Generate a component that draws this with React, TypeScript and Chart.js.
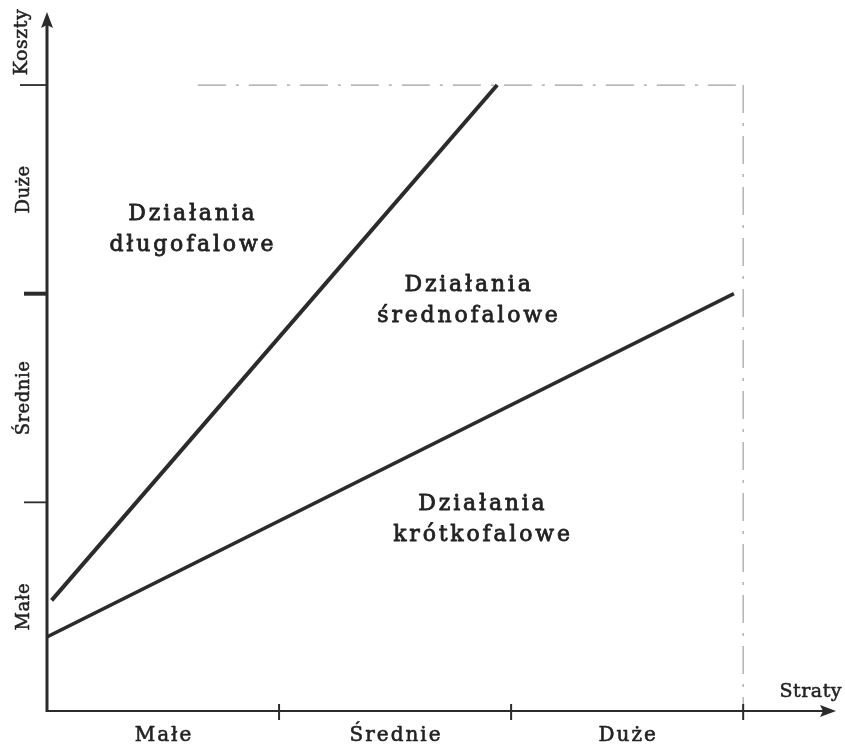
import React, { useEffect, useRef } from "react";
import { Chart, registerables } from "chart.js";

Chart.register(...registerables);

// Category names on both axes (Małe / Średnie / Duże)
const xCategories = ["Małe", "Średnie", "Duże"];
const yCategories = ["Małe", "Średnie", "Duże"];
const xAxisTitle = "Straty";
const yAxisTitle = "Koszty";

// Boundary lines (x: losses, y: costs, in category units 0..3)
const longTermBoundary = [
  { x: 0.02, y: 0.53 },
  { x: 1.94, y: 3.0 },
];
const shortTermBoundary = [
  { x: 0.0, y: 0.355 },
  { x: 2.96, y: 2.0 },
];

// Region names
const regionNames = [
  ["Działania", "długofalowe"],
  ["Działania", "średnofalowe"],
  ["Działania", "krótkofalowe"],
];
// anchor (data units) of each region name's first line
const regionAnchors = [
  { x: 0.62, y: 2.39 },
  { x: 1.81, y: 2.05 },
  { x: 1.87, y: 1.0 },
];

const INK = "#2b2b2b";
const TEXT = "#222";
const SERIF = "'DejaVu Serif', 'Liberation Serif', serif";

function heavyText(ctx: any, t: string, x: number, y: number, w: number) {
  ctx.fillText(t, x, y);
  ctx.lineWidth = w;
  ctx.strokeText(t, x, y);
}

const diagramPlugin = {
  id: "diagram",
  beforeDatasetsDraw(chart: any) {
    const { ctx } = chart;
    const xs = chart.scales.x;
    const ys = chart.scales.y;
    const x0 = xs.getPixelForValue(0);
    const y0 = ys.getPixelForValue(0);
    const xEnd = xs.getPixelForValue(xs.max);
    const yEnd = ys.getPixelForValue(ys.max);
    ctx.save();

    // dashed guides
    ctx.strokeStyle = "#a0a0a0";
    ctx.lineWidth = 1.2;
    ctx.setLineDash([28, 10, 3, 10]);
    ctx.beginPath();
    ctx.moveTo(xs.getPixelForValue(0.65), ys.getPixelForValue(3));
    ctx.lineTo(xs.getPixelForValue(2.98), ys.getPixelForValue(3));
    ctx.stroke();
    ctx.beginPath();
    ctx.moveTo(xs.getPixelForValue(3), ys.getPixelForValue(3));
    ctx.lineTo(xs.getPixelForValue(3), y0);
    ctx.stroke();
    ctx.setLineDash([]);

    // axes
    ctx.strokeStyle = INK;
    ctx.fillStyle = INK;
    ctx.lineWidth = 3;
    ctx.beginPath();
    ctx.moveTo(x0, y0 + 1);
    ctx.lineTo(x0, yEnd + 10);
    ctx.stroke();
    ctx.lineWidth = 2;
    ctx.beginPath();
    ctx.moveTo(x0 - 1, y0);
    ctx.lineTo(xEnd - 10, y0);
    ctx.stroke();
    // arrow heads
    ctx.beginPath();
    ctx.moveTo(x0, yEnd);
    ctx.lineTo(x0 - 6, yEnd + 16);
    ctx.lineTo(x0, yEnd + 13);
    ctx.lineTo(x0 + 6, yEnd + 16);
    ctx.closePath();
    ctx.fill();
    ctx.beginPath();
    ctx.moveTo(xEnd, y0);
    ctx.lineTo(xEnd - 16, y0 - 6);
    ctx.lineTo(xEnd - 13, y0);
    ctx.lineTo(xEnd - 16, y0 + 6);
    ctx.closePath();
    ctx.fill();

    // y ticks
    [1, 2, 3].forEach((v) => {
      const py = ys.getPixelForValue(v);
      ctx.lineWidth = v === 2 ? 4 : 1.8;
      ctx.beginPath();
      ctx.moveTo(x0 - (v === 3 ? 27 : 23), py);
      ctx.lineTo(x0, py);
      ctx.stroke();
    });
    // x ticks
    [1, 2, 3].forEach((v) => {
      const px = xs.getPixelForValue(v);
      ctx.lineWidth = 2;
      ctx.beginPath();
      ctx.moveTo(px, y0 - 7);
      ctx.lineTo(px, y0 + 9);
      ctx.stroke();
    });

    // category labels on x
    ctx.fillStyle = TEXT;
    ctx.strokeStyle = TEXT;
    ctx.lineJoin = "round";
    ctx.textAlign = "center";
    ctx.textBaseline = "alphabetic";
    ctx.font = `20px ${SERIF}`;
    (ctx as any).letterSpacing = "2px";
    xCategories.forEach((c, i) => {
      heavyText(ctx, c, xs.getPixelForValue(i + 0.5) + 1, y0 + 30, 0.6);
    });
    // category labels on y (rotated)
    ctx.font = `18px ${SERIF}`;
    (ctx as any).letterSpacing = "0.5px";
    yCategories.forEach((c, i) => {
      ctx.save();
      ctx.translate(x0 - 18, ys.getPixelForValue(i + 0.5));
      ctx.rotate(-Math.PI / 2);
      heavyText(ctx, c, 0, 0, 0.5);
      ctx.restore();
    });
    // axis titles
    ctx.font = `19px ${SERIF}`;
    (ctx as any).letterSpacing = "0.5px";
    ctx.save();
    ctx.translate(x0 - 20, yEnd + 30);
    ctx.rotate(-Math.PI / 2);
    heavyText(ctx, yAxisTitle, 0, 0, 0.5);
    ctx.restore();
    ctx.textAlign = "right";
    heavyText(ctx, xAxisTitle, xEnd + 6, y0 - 14, 0.5);

    // region names
    ctx.textAlign = "center";
    ctx.font = `22px ${SERIF}`;
    (ctx as any).letterSpacing = "2.8px";
    regionNames.forEach((lines, i) => {
      const px = xs.getPixelForValue(regionAnchors[i].x);
      const py = ys.getPixelForValue(regionAnchors[i].y);
      lines.forEach((t, j) => {
        heavyText(ctx, t, px + 2, py + 8 + j * 31, 0.8);
      });
    });
    (ctx as any).letterSpacing = "0px";
    ctx.restore();
  },
};

export default function App() {
  const ref = useRef<HTMLCanvasElement | null>(null);
  useEffect(() => {
    if (!ref.current) return;
    const chart = new Chart(ref.current, {
      type: "scatter",
      data: {
        datasets: [
          {
            label: "długofalowe / średnofalowe",
            data: longTermBoundary,
            showLine: true,
            borderColor: INK,
            borderWidth: 4,
            pointRadius: 0,
            borderCapStyle: "butt",
          },
          {
            label: "średnofalowe / krótkofalowe",
            data: shortTermBoundary,
            showLine: true,
            borderColor: INK,
            borderWidth: 3.5,
            pointRadius: 0,
            borderCapStyle: "butt",
          },
        ],
      },
      options: {
        responsive: false,
        animation: false,
        layout: { padding: { left: 47, right: 9, top: 12, bottom: 35 } },
        plugins: {
          legend: { display: false },
          tooltip: { enabled: false },
        },
        scales: {
          x: { type: "linear", min: 0, max: 3.4, display: false },
          y: { type: "linear", min: 0, max: 3.35, display: false },
        },
      },
      plugins: [diagramPlugin],
    } as any);
    return () => chart.destroy();
  }, []);
  return (
    <div style={{ position: "absolute", left: 0, top: 0, width: 845, height: 746, background: "#fff" }}>
      <canvas ref={ref} width={845} height={746} />
    </div>
  );
}
